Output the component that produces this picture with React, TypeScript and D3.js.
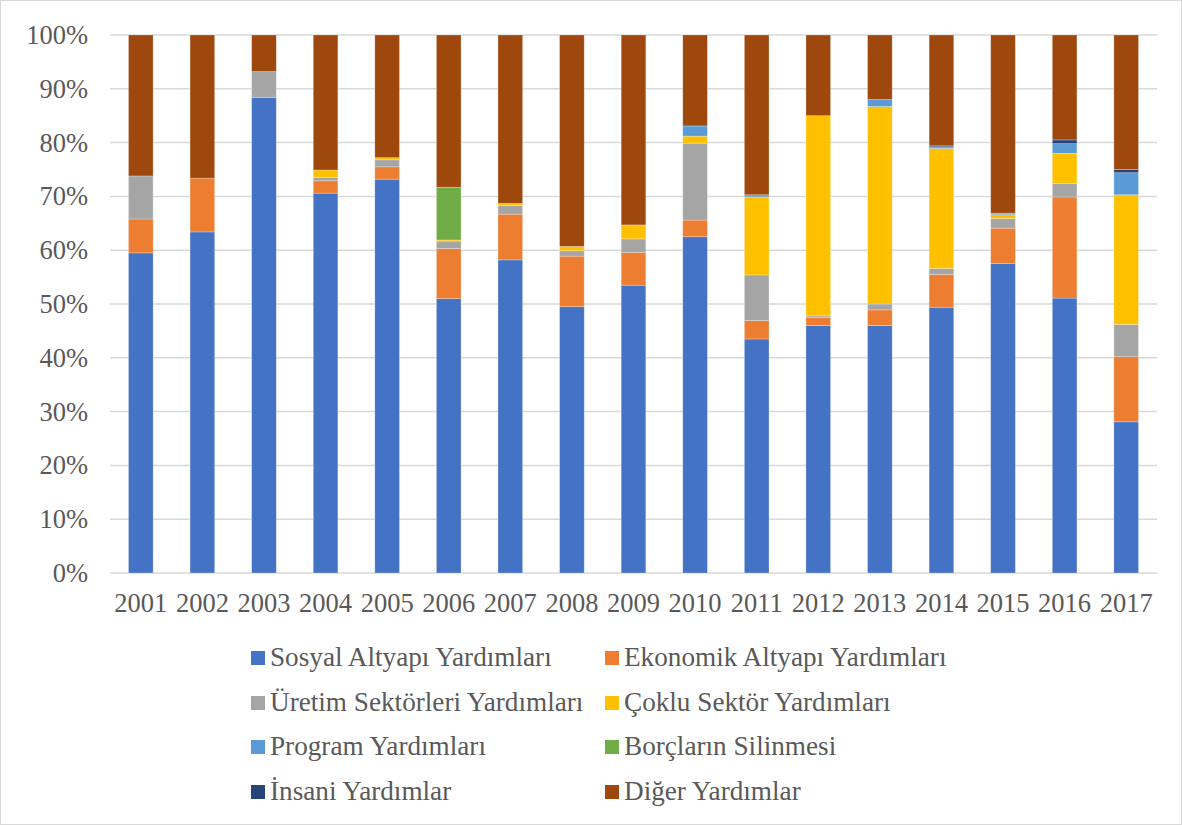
import React from 'react';
import * as d3 from 'd3';

const years = ['2001', '2002', '2003', '2004', '2005', '2006', '2007', '2008', '2009',
  '2010', '2011', '2012', '2013', '2014', '2015', '2016', '2017'];

const seriesNames = [
  'Sosyal Altyapı Yardımları',
  'Ekonomik Altyapı Yardımları',
  'Üretim Sektörleri Yardımları',
  'Çoklu Sektör Yardımları',
  'Program Yardımları',
  'Borçların Silinmesi',
  'İnsani Yardımlar',
  'Diğer Yardımlar',
];

const colors = ['#4472C4', '#ED7D31', '#A5A5A5', '#FFC000', '#5B9BD5', '#70AD47', '#264478', '#9E480E'];

// percent shares per year
const sosyal = [59.5, 63.4, 88.4, 70.6, 73.2, 51.0, 58.2, 49.5, 53.5, 62.5, 43.5, 46.0, 46.0, 49.4, 57.5, 51.1, 28.1];
const ekonomik = [6.3, 10.0, 0, 2.3, 2.3, 9.3, 8.5, 9.4, 6.1, 3.1, 3.4, 1.5, 2.9, 6.1, 6.6, 18.8, 12.1];
const uretim = [8.0, 0, 4.8, 0.6, 1.3, 1.4, 1.6, 1.0, 2.5, 14.3, 8.5, 0.3, 1.1, 1.1, 1.8, 2.5, 6.0];
const coklu = [0, 0, 0, 1.4, 0.4, 0.2, 0.4, 0.8, 2.6, 1.3, 14.5, 37.2, 36.7, 22.3, 0.7, 5.6, 24.1];
const program = [0, 0, 0, 0, 0, 0, 0, 0, 0, 1.9, 0.4, 0, 1.3, 0.3, 0.3, 1.8, 4.1];
const borclar = [0, 0, 0, 0, 0, 9.8, 0, 0, 0, 0, 0, 0, 0, 0, 0, 0, 0];
const insani = [0, 0, 0, 0, 0, 0, 0, 0, 0, 0, 0, 0, 0, 0.2, 0, 0.7, 0.6];
const diger = [26.2, 26.6, 6.8, 25.1, 22.8, 28.3, 31.3, 39.3, 35.3, 16.9, 29.7, 15.0, 12.0, 20.6, 33.1, 19.5, 25.0];

const seriesValues = [sosyal, ekonomik, uretim, coklu, program, borclar, insani, diger];

const yTicks = [0, 10, 20, 30, 40, 50, 60, 70, 80, 90, 100];

const W = 1182;
const H = 825;
const FONT = 'Liberation Serif';
const TEXT_COLOR = '#595959';

const margin = { top: 35, left: 110, right: 25, bottom: 252 };
const plotW = W - margin.left - margin.right;
const plotH = H - margin.top - margin.bottom;

export default function App() {
  const x = d3.scaleBand().domain(years).range([0, plotW]).paddingInner(0.6).paddingOuter(0.3);
  const y = d3.scaleLinear().domain([0, 100]).range([plotH, 0]);

  const rows = years.map((yr, i) => {
    const row: any = { year: yr };
    seriesNames.forEach((s, j) => { row[s] = seriesValues[j][i]; });
    return row;
  });
  const layers = d3.stack().keys(seriesNames).offset(d3.stackOffsetExpand)(rows);

  const colX = [251, 605];
  const rowY = [658, 703, 747, 792];

  return (
    <svg
      width={W}
      height={H}
      style={{ position: 'absolute', left: 0, top: 0, display: 'block' }}
    >
      <rect x={0.5} y={0.5} width={W - 1} height={H - 1} fill="#fff" stroke="#d9d9d9" />
      <g transform={`translate(${margin.left},${margin.top})`}>
        {/* gridlines */}
        {yTicks.map((t) => (
          <line key={t} x1={0} x2={plotW} y1={y(t)} y2={y(t)} stroke="#d9d9d9" strokeWidth={1.5} />
        ))}
        {/* y labels */}
        {yTicks.map((t) => (
          <text key={t} x={-22} y={y(t) + 9} textAnchor="end" fontFamily={FONT} fontSize={26.5} fill={TEXT_COLOR}>
            {`${t}%`}
          </text>
        ))}
        {/* bars */}
        {layers.map((layer, j) => (
          <g key={seriesNames[j]} fill={colors[j]}>
            {layer.filter((d) => d[1] - d[0] > 0).map((d: any) => (
              <rect
                key={d.data.year}
                x={x(d.data.year)}
                width={x.bandwidth()}
                y={y(d[1] * 100)}
                height={y(d[0] * 100) - y(d[1] * 100)}
                stroke="rgba(255,255,255,0.35)"
                strokeWidth={0.75}
              />
            ))}
          </g>
        ))}
        {/* x labels */}
        {years.map((yr) => (
          <text
            key={yr}
            x={(x(yr) as number) + x.bandwidth() / 2}
            y={plotH + 39}
            textAnchor="middle"
            fontFamily={FONT}
            fontSize={26.5}
            fill={TEXT_COLOR}
          >
            {yr}
          </text>
        ))}
      </g>
      {/* legend */}
      {seriesNames.map((name, i) => {
        const cx = colX[i % 2];
        const cy = rowY[Math.floor(i / 2)];
        return (
          <g key={name}>
            <rect x={cx} y={cy - 7} width={14} height={14} fill={colors[i]} />
            <text x={cx + 19} y={cy + 8} fontFamily={FONT} fontSize={27.2} fill={TEXT_COLOR}>
              {name}
            </text>
          </g>
        );
      })}
    </svg>
  );
}
